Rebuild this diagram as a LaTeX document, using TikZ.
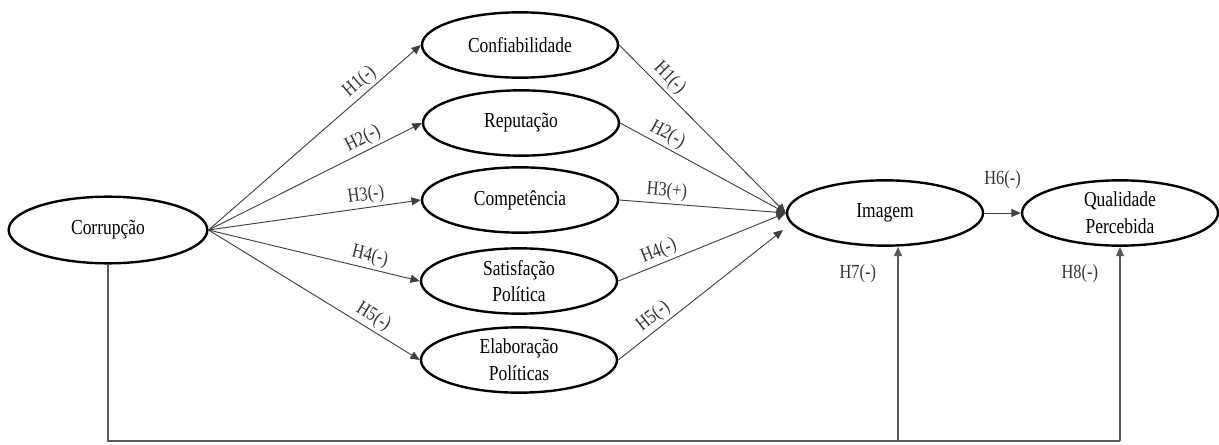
\documentclass[tikz,border=0pt]{standalone}
\usepackage{fontspec}
\setmainfont{Liberation Serif}[FakeStretch=0.82]
\usetikzlibrary{arrows.meta,shapes.geometric}

\begin{document}
\begin{tikzpicture}[x=0.75pt,y=-0.75pt,
  construct/.style={ellipse,draw,line width=1.8pt,minimum width=147pt,minimum height=49pt,
    inner sep=0pt,align=center,font=\fontsize{16}{20}\selectfont},
  hyp/.style={draw=black!75,line width=0.7pt,-{Triangle[length=7pt,width=6pt]}},
  hlabel/.style={font=\fontsize{15}{15}\selectfont,text=black!80,inner sep=2pt}]
\useasboundingbox (0,0) rectangle (1219,445);
% constructs
\node[construct,minimum width=149pt,minimum height=50pt] (corr) at (108,230) {Corrupção};
\node[construct] (conf) at (520,45) {Confiabilidade};
\node[construct] (rep) at (521,123) {Reputação};
\node[construct] (comp) at (520,200) {Competência};
\node[construct] (sat) at (519,281) {Satisfação\\Política};
\node[construct] (elab) at (519,360) {Elaboração\\Políticas};
\node[construct] (img) at (885,213) {Imagem};
\node[construct] (qual) at (1120,213) {Qualidade\\Percebida};
\coordinate (imgin) at (783,230);
% corruption -> dimensions
\draw[hyp] (corr.east) -- node[hlabel,pos=0.75,above,sloped] {H1(-)} (conf.west);
\draw[hyp] (corr.east) -- node[hlabel,pos=0.75,above,sloped] {H2(-)} (rep.west);
\draw[hyp] (corr.east) -- node[hlabel,pos=0.75,above,sloped] {H3(-)} (comp.west);
\draw[hyp] (corr.east) -- node[hlabel,pos=0.75,above,sloped] {H4(-)} (sat.west);
\draw[hyp] (corr.east) -- node[hlabel,pos=0.75,above,sloped] {H5(-)} (elab.west);
% dimensions -> image
\draw[hyp] (conf.east) -- node[hlabel,pos=0.25,above,sloped] {H1(-)} (img.west);
\draw[hyp] (rep.east) -- node[hlabel,pos=0.25,above,sloped] {H2(-)} (img.west);
\draw[hyp] (comp.east) -- node[hlabel,pos=0.28,above,sloped] {H3(+)} (img.west);
\draw[hyp] (sat.east) -- node[hlabel,pos=0.27,above,sloped] {H4(-)} (img.west);
\draw[hyp] (elab.east) -- node[hlabel,pos=0.26,above,sloped] {H5(-)} (imgin);
% image -> perceived quality
\draw[hyp] (img.east) -- node[hlabel,above=16pt] {H6(-)} (qual.west);
% direct paths
\coordinate (bl) at (108,441);
\coordinate (bm) at (898,441);
\coordinate (br) at (1120,441);
\draw[draw=black!65,line width=0.9pt] (corr.south) -- (bl) -- (br);
\draw[hyp,draw=black!65,line width=0.9pt] (bm) -- node[hlabel,pos=0.86,left=14pt] {H7(-)} (img.south -| bm);
\draw[hyp,draw=black!65,line width=0.9pt] (br) -- node[hlabel,pos=0.86,left=14pt] {H8(-)} (qual.south);
\end{tikzpicture}
\end{document}
